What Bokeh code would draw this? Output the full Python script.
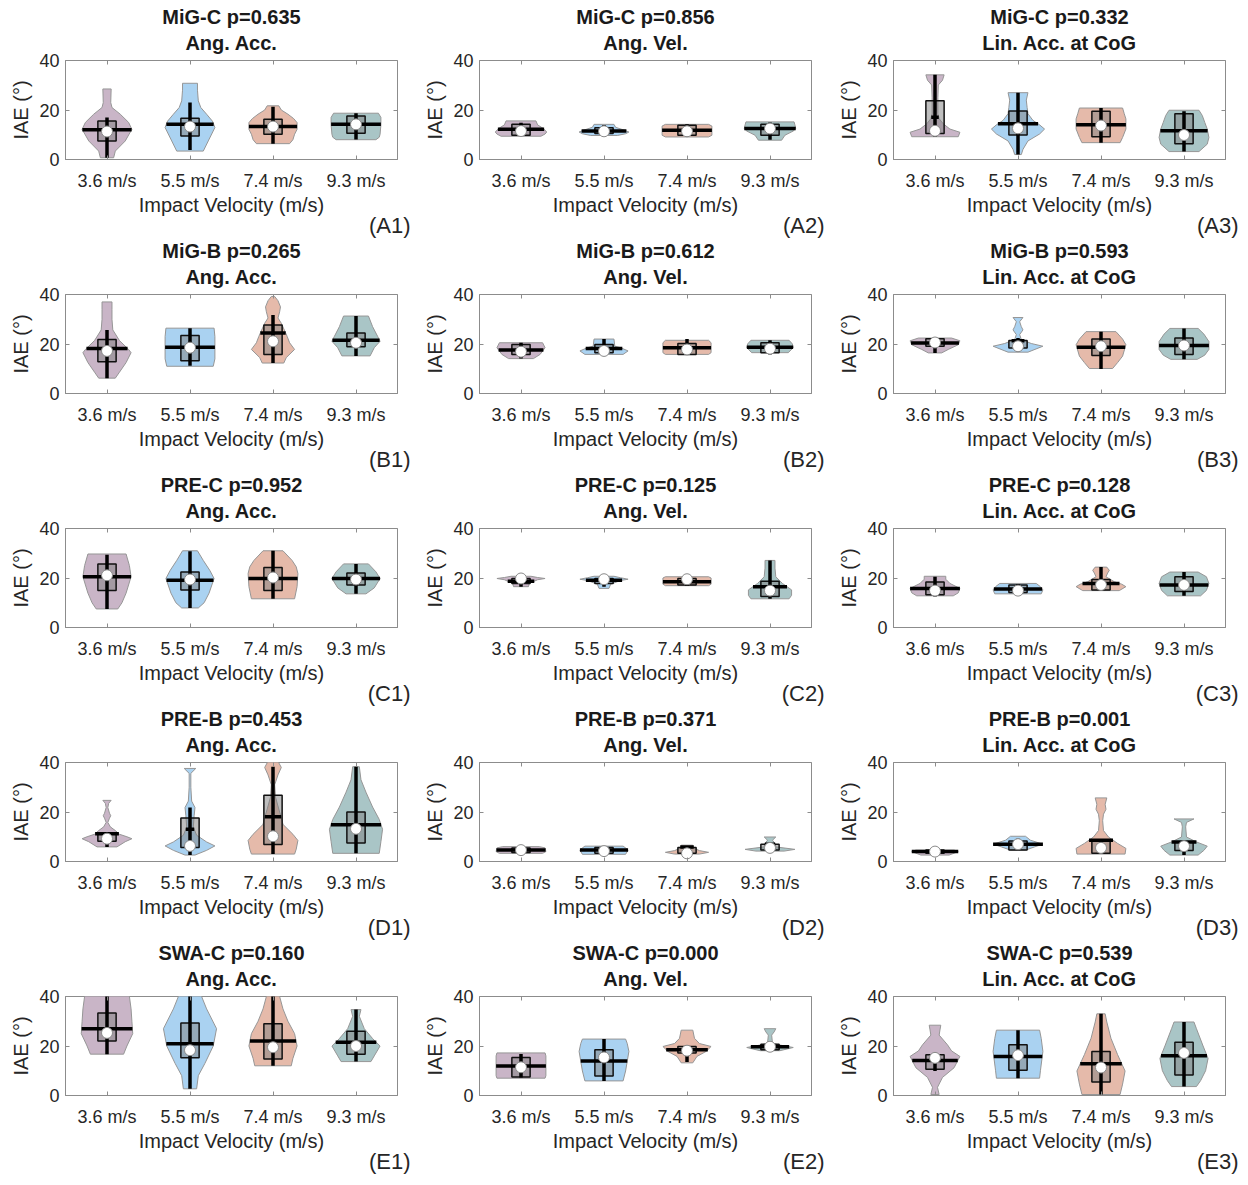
import numpy as np
from bokeh.plotting import figure
from bokeh.layouts import gridplot
from bokeh.models import FixedTicker, LinearAxis, Range1d, Title
from bokeh.embed import file_html
from bokeh.resources import INLINE

# ---------------------------------------------------------------- data
SPEEDS = ["3.6 m/s", "5.5 m/s", "7.4 m/s", "9.3 m/s"]
MEASURES = ["Ang. Acc.", "Ang. Vel.", "Lin. Acc. at CoG"]
GROUPS = ["MiG-C", "MiG-B", "PRE-C", "PRE-B", "SWA-C"]
P_VALUES = [
    ["0.635", "0.856", "0.332"],
    ["0.265", "0.612", "0.593"],
    ["0.952", "0.125", "0.128"],
    ["0.453", "0.371", "0.001"],
    ["0.160", "0.000", "0.539"],
]

# violin outlines: (IAE, half width) pairs from bottom to top, one list per speed
# statistics per speed: whisker low, Q1, median, mean, Q3, whisker high

A1_SHAPE = [
    [(0.7, .08), (3.4, .10), (7.5, .22), (12.2, .30), (15, .26), (18.3, .16), (21, .06), (23, .045), (28.5, .05)],
    [(3.4, .16), (7.5, .22), (12.9, .30), (15.5, .27), (18.3, .20), (21, .13), (23.7, .10), (28, .09), (30.8, .09)],
    [(6.4, .20), (8, .24), (10.2, .26), (12.2, .29), (14.9, .29), (16.5, .25), (18.3, .18), (20, .10), (21.7, .07)],
    [(8, .24), (9, .28), (10.2, .29), (14, .30), (17, .30), (18.7, .27)],
]
A1_LO = [0.7, 3.8, 6.4, 8.1]
A1_Q1 = [7.5, 9.5, 10.2, 10.6]
A1_MED = [11.3, 13.3, 13.3, 14.2]
A1_MEAN = [12.0, 14.2, 13.3, 14.2]
A1_Q3 = [15.6, 16.7, 16.3, 17.6]
A1_HI = [17.0, 23.0, 21.3, 18.7]

A2_SHAPE = [
    [(9.4, .24), (10.3, .29), (11.1, .31), (12.5, .27), (14, .20), (15.6, .18)],
    [(9.7, .16), (10.4, .26), (11.1, .30), (11.9, .24), (13, .14), (14.2, .12)],
    [(9.1, .26), (9.8, .30), (13.5, .30), (14.2, .26)],
    [(7.8, .14), (9.8, .18), (11.5, .28), (12.5, .31), (14, .30), (15.2, .29)],
]
A2_LO = [9.8, 10.5, 9.1, 8.0]
A2_Q1 = [9.8, 10.5, 9.8, 9.8]
A2_MED = [11.5, 11.4, 11.4, 12.5]
A2_MEAN = [12.2, 11.5, 11.8, 12.5]
A2_Q3 = [14.2, 12.8, 13.8, 14.2]
A2_HI = [14.8, 13.9, 14.2, 14.9]

A3_SHAPE = [
    [(9.2, .28), (11, .30), (12.3, .18), (14.4, .10), (16.5, .05), (18.5, .035), (25, .035), (30.1, .04), (32, .09), (34.2, .11)],
    [(2, .04), (4.1, .06), (7.5, .12), (10.3, .26), (12.3, .32), (14, .26), (15.8, .18), (18.5, .12), (21, .11), (24, .10), (27, .12)],
    [(6.8, .23), (8.9, .26), (12.3, .30), (16.4, .30), (18.5, .28), (20.8, .26)],
    [(3.2, .18), (6.2, .28), (8.9, .30), (12.3, .28), (15, .25), (17.8, .22), (19.9, .18)],
]
A3_LO = [9.2, 2.0, 6.8, 3.2]
A3_Q1 = [10.5, 9.9, 9.2, 6.4]
A3_MED = [11.6, 12.6, 13.7, 9.9]
A3_MEAN = [17.1, 14.4, 14.0, 11.6]
A3_Q3 = [23.7, 19.6, 19.5, 18.5]
A3_HI = [34.2, 27.0, 20.8, 19.5]

B1_SHAPE = [
    [(6.2, .10), (8.6, .15), (12.5, .23), (16.5, .29), (17.8, .26), (21.4, .15), (25.7, .07), (30, .06), (34, .06), (37, .06)],
    [(11, .28), (14, .30), (19, .30), (23, .30), (26.4, .29)],
    [(12.3, .13), (14.5, .16), (17.8, .26), (20.5, .20), (23.1, .17), (28.4, .10), (30.5, .06), (33, .08), (35, .09), (37.5, .06), (39.2, .02)],
    [(15.2, .17), (18.5, .22), (21.1, .29), (23.1, .26), (27, .20), (31.3, .15)],
]
B1_LO = [6.2, 11.2, 12.3, 15.2]
B1_Q1 = [12.8, 13.2, 15.8, 18.9]
B1_MED = [17.2, 18.5, 21.1, 20.5]
B1_MEAN = [18.2, 18.7, 24.4, 21.5]
B1_Q3 = [21.8, 23.4, 27.7, 24.4]
B1_HI = [25.7, 26.4, 31.7, 31.3]

B2_SHAPE = [
    [(14.1, .15), (15.8, .23), (18.5, .29), (20.5, .26)],
    [(15.8, .23), (17.2, .29), (18.5, .20), (19.1, .13), (22, .12)],
    [(15.8, .26), (16.5, .29), (20.5, .29), (21.5, .26)],
    [(16.5, .22), (18.5, .28), (20, .27), (21.5, .23)],
]
B2_LO = [14.1, 16.5, 15.8, 15.8]
B2_Q1 = [15.8, 16.5, 15.8, 16.5]
B2_MED = [16.9, 17.2, 17.8, 18.1]
B2_MEAN = [17.6, 18.2, 18.5, 18.7]
B2_Q3 = [19.8, 19.8, 20.2, 20.5]
B2_HI = [20.5, 22.0, 22.0, 21.5]

B3_SHAPE = [
    [(16.4, .08), (17.8, .16), (19.7, .28), (21.3, .30), (22.4, .20)],
    [(16.7, .12), (19.1, .30), (20.2, .16), (21.8, .04), (23.8, .02), (25.7, .06), (27, .04), (29, .02), (30.7, .06)],
    [(10.1, .14), (12.5, .20), (15.1, .26), (19.7, .30), (22, .26), (25, .18)],
    [(13.8, .16), (15.5, .25), (17.8, .30), (21, .30), (24, .24), (26.3, .17)],
]
B3_LO = [16.4, 17.1, 9.9, 13.8]
B3_Q1 = [19.1, 18.4, 15.4, 15.8]
B3_MED = [20.6, 19.1, 19.1, 19.4]
B3_MEAN = [20.4, 21.3, 18.7, 19.4]
B3_Q3 = [22.1, 21.4, 22.0, 22.4]
B3_HI = [22.4, 22.4, 25.0, 26.3]

C1_SHAPE = [
    [(7.5, .13), (10, .18), (13.9, .23), (20.5, .29), (25, .27), (29.7, .23)],
    [(7.9, .10), (10, .17), (13.9, .23), (19.8, .29), (23, .24), (27.1, .16), (31, .09)],
    [(11.6, .26), (16.5, .29), (21.8, .30), (24.5, .28), (27.1, .23), (31, .12)],
    [(13.6, .12), (16, .22), (19.8, .29), (22.5, .24), (25.7, .15)],
]
C1_LO = [7.5, 7.9, 11.6, 13.6]
C1_Q1 = [14.9, 15.2, 14.9, 17.2]
C1_MED = [21.1, 19.4, 20.2, 19.4]
C1_MEAN = [20.5, 19.1, 19.8, 19.8]
C1_Q3 = [25.7, 22.4, 24.2, 22.0]
C1_HI = [29.4, 30.8, 31.0, 25.7]

C2_SHAPE = [
    [(16.5, .09), (17.8, .10), (19.3, .20), (19.8, .29), (20.2, .20), (20.7, .12)],
    [(15.8, .06), (17.5, .08), (19, .20), (19.5, .29), (20.1, .20), (20.7, .12)],
    [(16.9, .26), (17.5, .29), (20, .29), (20.5, .26)],
    [(11.6, .23), (13, .26), (15.2, .26), (17.8, .15), (20.5, .07), (24, .06), (27.1, .06)],
]
C2_LO = [16.5, 16.5, 16.9, 11.6]
C2_Q1 = [17.8, 17.8, 17.2, 12.5]
C2_MED = [19.8, 19.5, 19.5, 14.9]
C2_MEAN = [18.7, 19.1, 18.5, 16.5]
C2_Q3 = [19.8, 19.8, 19.8, 18.7]
C2_HI = [20.5, 20.7, 20.5, 27.1]

C3_SHAPE = [
    [(12.8, .22), (14, .28), (15.8, .30), (17.8, .18), (19.5, .13), (20.7, .13)],
    [(13.6, .28), (15.2, .30), (16.5, .27), (17.8, .22)],
    [(14.9, .22), (16.5, .30), (17.5, .25), (18.5, .16), (20.5, .06), (22, .08), (23.1, .10), (24.4, .07)],
    [(12.8, .20), (15, .27), (17.8, .30), (20.5, .27), (22.4, .17)],
]
C3_LO = [12.5, 13.6, 14.9, 12.8]
C3_Q1 = [13.2, 14.1, 15.2, 14.5]
C3_MED = [14.9, 14.9, 17.2, 17.2]
C3_MEAN = [15.8, 15.6, 17.8, 17.2]
C3_Q3 = [18.4, 17.2, 19.4, 20.5]
C3_HI = [20.5, 17.6, 24.4, 22.4]

D1_SHAPE = [
    [(5.9, .12), (8, .22), (9.2, .30), (10, .24), (11, .15), (12.5, .10), (14, .04), (15.8, .01), (17.5, .03), (18.5, .045), (19.5, .03), (21.8, .01), (23.5, .02), (24.7, .05)],
    [(2.6, .06), (4.5, .20), (6.3, .30), (7.9, .20), (10.6, .08), (13.9, .04), (18.5, .05), (21.8, .06), (24.4, .02), (30, .01), (35.6, .01), (37.6, .07)],
    [(3, .26), (5, .28), (8.5, .30), (11, .24), (15, .12), (18, .10), (20, .08), (26, .03), (31, .02), (35, .06), (38, .10), (40.5, .06)],
    [(3.3, .28), (8, .30), (13, .32), (17, .28), (22, .20), (28, .12), (33, .06), (38.3, .04)],
]
D1_LO = [5.9, 2.6, 3.0, 3.3]
D1_Q1 = [8.2, 5.7, 6.9, 7.5]
D1_MED = [9.2, 6.3, 10.2, 13.2]
D1_MEAN = [11.2, 13.0, 18.1, 14.8]
D1_Q3 = [11.5, 17.6, 26.8, 20.0]
D1_HI = [11.5, 21.8, 38.3, 38.3]

D2_SHAPE = [
    [(3.3, .26), (4, .30), (5.5, .29), (6, .22)],
    [(2.9, .26), (4.6, .29), (5.5, .26), (6.2, .23)],
    [(3, .15), (3.7, .26), (4.4, .15), (5.3, .09), (6.6, .07)],
    [(4.2, .17), (4.9, .30), (5.9, .07), (7.3, .06), (8.6, .03), (9.9, .07)],
]
D2_LO = [3.3, 2.9, 3.3, 4.2]
D2_Q1 = [3.6, 3.3, 3.3, 4.6]
D2_MED = [4.6, 4.2, 3.3, 5.5]
D2_MEAN = [4.6, 4.6, 5.9, 7.0]
D2_Q3 = [5.5, 5.7, 5.7, 7.0]
D2_HI = [6.0, 6.2, 6.3, 7.9]

D3_SHAPE = [
    [(2.6, .17), (4, .28), (4.6, .23)],
    [(4.6, .09), (5.9, .20), (7, .30), (8.6, .15), (10.2, .09)],
    [(3, .29), (5.3, .30), (7.3, .20), (9.9, .09), (12.5, .03), (16.5, .02), (19.1, .03), (21.1, .06), (23.1, .05), (25.7, .07)],
    [(2.6, .17), (4.5, .24), (6.2, .28), (7.9, .15), (9.9, .03), (14, .02), (15.8, .03), (17.2, .12)],
]
D3_LO = [2.6, 4.6, 3.3, 2.6]
D3_Q1 = [3.3, 4.6, 3.3, 4.4]
D3_MED = [4.0, 7.0, 5.5, 6.2]
D3_MEAN = [4.0, 7.0, 8.6, 7.9]
D3_Q3 = [4.6, 8.3, 8.8, 7.9]
D3_HI = [4.6, 9.2, 8.8, 7.9]

E1_SHAPE = [
    [(16.7, .20), (20, .24), (25, .31), (30, .30), (35, .29), (40, .27), (41, .26)],
    [(2.7, .08), (8, .10), (13, .18), (20, .28), (27, .32), (35, .20), (40, .14), (41, .12)],
    [(12, .22), (15, .24), (20, .29), (25, .26), (30, .18), (35, .12), (40, .08), (41, .07)],
    [(13.7, .18), (16, .22), (20, .29), (23, .20), (27, .10), (32, .04), (34.7, .06)],
]
E1_LO = [16.7, 2.7, 12.0, 13.7]
E1_Q1 = [22.0, 15.3, 14.7, 16.7]
E1_MED = [25.3, 18.3, 19.5, 20.0]
E1_MEAN = [27.0, 20.9, 22.0, 21.5]
E1_Q3 = [33.3, 29.3, 29.0, 26.0]
E1_HI = [41.0, 41.0, 41.0, 34.7]

E2_SHAPE = [
    [(7, .29), (8, .30), (16, .30), (17.2, .29)],
    [(5.9, .23), (9.9, .26), (17.8, .30), (21, .28), (22.8, .26)],
    [(13.2, .07), (15.8, .12), (17.8, .23), (19.8, .29), (21, .15), (23.1, .09), (26.4, .07)],
    [(18.1, .12), (19.4, .28), (20.5, .10), (21.1, .03), (24.4, .02), (25.7, .05), (27, .07)],
]
E2_LO = [7.3, 5.9, 13.5, 18.5]
E2_Q1 = [7.5, 7.9, 17.2, 18.5]
E2_MED = [11.4, 15.4, 18.1, 19.7]
E2_MEAN = [11.9, 13.9, 18.5, 19.7]
E2_Q3 = [15.4, 18.5, 19.8, 20.7]
E2_HI = [16.8, 22.8, 19.8, 20.7]

E3_SHAPE = [
    [(0.4, .05), (3.3, .03), (7.3, .09), (11.2, .23), (15.8, .30), (18, .20), (20.5, .15), (24.4, .05), (26.5, .06), (28.4, .07)],
    [(7, .26), (10, .27), (17.8, .30), (23, .28), (26.4, .26)],
    [(0.4, .23), (4.6, .26), (9.9, .29), (16.5, .20), (23.1, .12), (29.7, .07), (33, .05)],
    [(3.6, .15), (6, .20), (10, .26), (15, .29), (20, .23), (27, .15), (29.7, .12)],
]
E3_LO = [9.9, 7.0, 0.4, 3.6]
E3_Q1 = [10.6, 10.2, 5.5, 8.3]
E3_MED = [15.2, 16.3, 11.3, 17.2]
E3_MEAN = [14.1, 15.8, 12.8, 16.1]
E3_Q3 = [16.5, 20.5, 17.8, 21.5]
E3_HI = [16.5, 26.4, 33.0, 29.7]

# ---------------------------------------------------------------- style
FONT = "Liberation Sans"
TEXT = "#262626"
FRAME = "#8c8c8c"
VIOLIN_FILL = ["#c9b5c7", "#aad2f1", "#e5baaa", "#a9c5c6"]
VIOLIN_EDGE = "#969696"
BOX_HALF = 0.11

g = globals()


def panel(row, col):
    key = "ABCDE"[row] + str(col + 1)
    shape = g[key + "_SHAPE"]
    lo, q1, med = g[key + "_LO"], g[key + "_Q1"], g[key + "_MED"]
    mean, q3, hi = g[key + "_MEAN"], g[key + "_Q3"], g[key + "_HI"]

    top = 60 if row == 0 else 55
    p = figure(frame_width=332, frame_height=99,
               x_range=Range1d(0.5, 4.5), y_range=Range1d(0, 40),
               output_backend="svg", toolbar_location=None, title=None,
               min_border_left=65, min_border_right=17,
               min_border_top=top, min_border_bottom=80)
    p.background_fill_color = "white"
    p.border_fill_color = "white"
    p.outline_line_color = FRAME
    p.outline_line_width = 1
    p.grid.visible = False

    xa = p.xaxis[0]
    xa.ticker = FixedTicker(ticks=[1, 2, 3, 4])
    xa.major_label_overrides = {i + 1: s for i, s in enumerate(SPEEDS)}
    xa.axis_label = "Impact Velocity (m/s)"
    ya = p.yaxis[0]
    ya.ticker = FixedTicker(ticks=[0, 20, 40])
    ya.axis_label = "IAE (°)"
    for ax in (xa, ya):
        ax.axis_line_color = FRAME
        ax.major_tick_line_color = FRAME
        ax.major_tick_in = 4
        ax.major_tick_out = 0
        ax.minor_tick_line_color = None
        ax.major_label_text_font = FONT
        ax.major_label_text_font_size = "18px"
        ax.major_label_text_color = TEXT
        ax.axis_label_text_font = FONT
        ax.axis_label_text_font_size = "20px"
        ax.axis_label_text_font_style = "normal"
        ax.axis_label_text_color = TEXT
    xa.major_label_standoff = 11
    xa.axis_label_standoff = 0
    ya.major_label_standoff = 6
    ya.axis_label_standoff = 4

    # inner tick marks on the opposite sides of the box
    for side, ticks in (("right", [0, 20, 40]), ("above", [1, 2, 3, 4])):
        ax = LinearAxis(ticker=FixedTicker(ticks=ticks),
                        major_label_overrides={t: "" for t in ticks},
                        major_label_text_font_size="1px",
                        major_label_standoff=0,
                        axis_line_color=None, major_tick_line_color=FRAME,
                        major_tick_in=4, major_tick_out=0,
                        minor_tick_line_color=None)
        p.add_layout(ax, side)

    # two-line heading, each line centred over the box
    for text, standoff in ((MEASURES[col], 13), (f"{GROUPS[row]} p={P_VALUES[row][col]}", -9)):
        p.add_layout(Title(text=text, align="center", standoff=standoff,
                           text_font=FONT, text_font_size="20px",
                           text_font_style="bold", text_color="#1a1a1a"), "above")

    # panel tag under the axis title
    p.add_layout(Title(text=f"({key})", align="right", offset=-13, standoff=-15,
                       text_font=FONT, text_font_size="22px",
                       text_font_style="normal", text_color=TEXT), "below")

    for i in range(4):
        c = i + 1
        ys = np.array([pt[0] for pt in shape[i]])
        ws = np.array([pt[1] for pt in shape[i]])
        px = np.concatenate([c + ws, (c - ws)[::-1]])
        py = np.concatenate([ys, ys[::-1]])
        p.patch(px, py, fill_color=VIOLIN_FILL[i], fill_alpha=1.0,
                line_color=VIOLIN_EDGE, line_width=1)
        p.quad(left=c - BOX_HALF, right=c + BOX_HALF, bottom=q1[i], top=q3[i],
               fill_color="#7f7f7f", fill_alpha=0.5,
               line_color="#111111", line_width=1.5)
        p.segment(x0=c, x1=c, y0=lo[i], y1=hi[i], line_color="black", line_width=3.5)
        hw = float(np.interp(mean[i], ys, ws))
        p.segment(x0=c - hw, x1=c + hw, y0=mean[i], y1=mean[i],
                  line_color="black", line_width=3.5)
        p.scatter(x=[c], y=[med[i]], size=11, fill_color="white",
                  line_color="#8a8a8a", line_width=1)
    return p


grid = gridplot([[panel(r, c) for c in range(3)] for r in range(5)],
                toolbar_location=None)

open("out.html", "w").write(file_html(grid, INLINE))
